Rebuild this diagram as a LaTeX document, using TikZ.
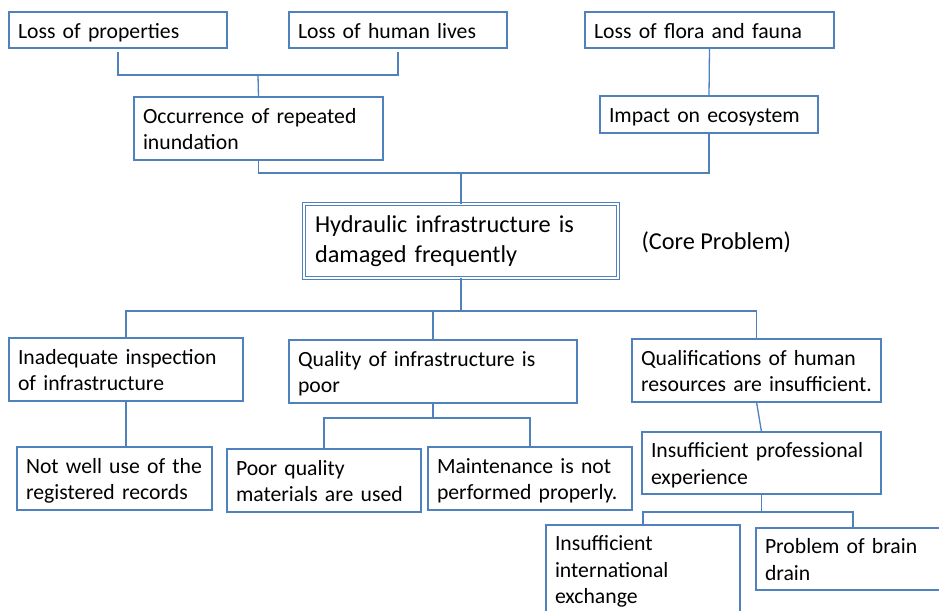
\documentclass[tikz,border=0pt]{standalone}
\usepackage{fontspec}
\setmainfont{Carlito}
\definecolor{Frame}{HTML}{4F81BD}
\newcommand{\tstrut}{\rule[-4pt]{0pt}{24pt}}
\newcommand{\cstrut}{\rule[-5pt]{0pt}{23pt}}

\begin{document}
\begin{tikzpicture}[x=1pt,y=-1pt,
 b/.style 2 args={draw=Frame,line width=1.3pt,fill=white,anchor=north west,outer sep=0pt,inner xsep=9pt,inner ysep=0pt,align=left,minimum width=#1pt,text width=#1pt-18pt,minimum height=#2pt},
 s/.style 2 args={b={#1}{#2},font=\fontsize{21.7}{26.5}\selectfont,execute at begin node=\tstrut,execute at end node=\tstrut},
 c/.style 2 args={b={#1}{#2},font=\fontsize{24.3}{29.3}\selectfont,execute at begin node=\cstrut,execute at end node=\cstrut,line width=1pt,double=white,double distance=1.6pt,inner xsep=11pt,text width=#1pt-22pt},
 a/.style={draw=Frame,line width=1.3pt}
]
\useasboundingbox (0,0) rectangle (939,610);
% effects
\node[s={218}{36}] (prop) at (9,12) {Loss of properties};
\node[s={218}{36}] (lives) at (289,12) {Loss of human lives};
\node[s={249}{36}] (flora) at (585,12) {Loss of flora and fauna};
\node[s={249}{63}] (occ) at (134,97) {Occurrence of repeated\\inundation};
\node[s={218}{37}] (eco) at (600,96) {Impact on ecosystem};
% core problem
\node[c={314}{74}] (core) at (304,204) {Hydraulic infrastructure is\\damaged frequently};
\node[anchor=west,font=\fontsize{24.3}{29.3}\selectfont] (tag) at (638,242) {(Core Problem)};
% causes
\node[s={234}{63}] (insp) at (9,338) {Inadequate inspection\\of infrastructure};
\node[s={288}{63}] (qual) at (289,340) {Quality of infrastructure is\\poor};
\node[s={249}{63}] (hr) at (632,339) {Qualifications of human\\resources are insufficient.};
\node[s={195}{63}] (rec) at (17,447) {Not well use of the\\registered records};
\node[s={194}{63}] (mat) at (227,449) {Poor quality\\materials are used};
\node[s={204}{63}] (maint) at (428,447) {Maintenance is not\\performed properly.};
\node[s={239}{62}] (exp) at (642,432) {Insufficient professional\\experience};
\node[s={194}{88}] (intl) at (546,525) {Insufficient\\international\\exchange};
\node[s={194}{62}] (brain) at (756,528) {Problem of brain\\drain};
% connectors
\coordinate (j1) at (258,75);
\coordinate (j2) at (461,173);
\coordinate (j3) at (461,311);
\coordinate (j4) at (433,418);
\coordinate (j5) at (761.5,512);
\draw[a,shorten <=4pt,shorten >=4pt] (prop.south) |- (j1) -| (lives.south);
\draw[a] (j1) -- (occ.north);
\draw[a] (flora.south) -- (eco.north);
\draw[a] (occ.south) |- (j2) -| (eco.south);
\draw[a] (j2) -- (core.north);
\draw[a] (core.south) -- (j3);
\draw[a] (insp.north) |- (j3) -| (hr.north);
\draw[a] (j3) -| (qual.north);
\draw[a] (insp.south) -- (insp.south |- rec.north);
\draw[a] (qual.south) -- (j4);
\draw[a] (mat.north) |- (j4) -| (maint.north);
\draw[a] (hr.south) -- (exp.north);
\draw[a] (exp.south) -- (j5);
\draw[a] (intl.north) |- (j5) -| (brain.north);
\end{tikzpicture}
\end{document}
